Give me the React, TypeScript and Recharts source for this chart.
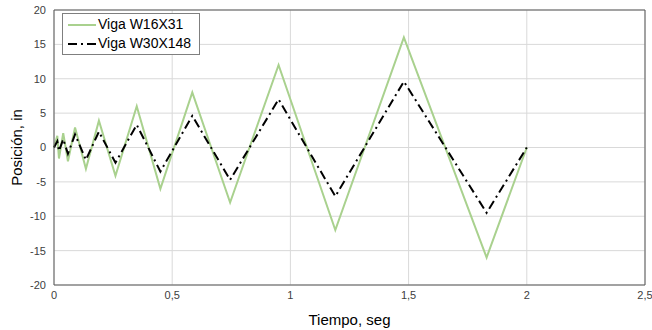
import React from 'react';
import {
  LineChart,
  Line,
  XAxis,
  YAxis,
  CartesianGrid,
  Legend,
  ReferenceLine,
} from 'recharts';

// tiempo (s) de cada vértice del protocolo
const tiempo = [
  0, 0.014, 0.021, 0.039, 0.059, 0.089, 0.135, 0.19, 0.26, 0.35, 0.45, 0.585,
  0.745, 0.95, 1.19, 1.48, 1.83, 2.0,
];
const vigaW16X31 = [
  0, 1.7, -1.6, 2.1, -2, 2.9, -3.1, 3.9, -4.1, 6, -6, 8, -8, 12, -12, 16, -16,
  0,
];
const vigaW30X148 = [
  0, 0.9, -0.5, 1.2, -0.9, 1.9, -1.8, 2.3, -2.2, 3.3, -3.5, 4.6, -4.7, 7.0,
  -7.1, 9.6, -9.5, 0,
];
const xTicks = [0, 0.5, 1, 1.5, 2, 2.5];
const yTicks = [-20, -15, -10, -5, 0, 5, 10, 15, 20];

const data = tiempo.map((t, i) => ({
  t,
  w16: vigaW16X31[i],
  w30: vigaW30X148[i],
}));

const FONT = '"Liberation Sans", Arial, sans-serif';
const GREEN = '#a9d18e';
const AXIS = '#595959';
const DASH = '9 4 2 4';

const LegendBox = () => (
  <div
    style={{
      border: '1px solid #7f7f7f',
      background: '#fff',
      padding: '1px 8px 1px 5px',
      fontFamily: FONT,
      fontSize: 14,
      color: '#000',
      lineHeight: '19px',
    }}
  >
    <div style={{ display: 'flex', alignItems: 'center' }}>
      <svg width={28} height={10}>
        <line x1={0} y1={5} x2={28} y2={5} stroke={GREEN} strokeWidth={2} />
      </svg>
      <span style={{ marginLeft: 2 }}>Viga W16X31</span>
    </div>
    <div style={{ display: 'flex', alignItems: 'center' }}>
      <svg width={28} height={10}>
        <line
          x1={0}
          y1={5}
          x2={28}
          y2={5}
          stroke='#000'
          strokeWidth={2}
          strokeDasharray={DASH}
        />
      </svg>
      <span style={{ marginLeft: 2 }}>Viga W30X148</span>
    </div>
  </div>
);

export default function App() {
  return (
    <div style={{ position: 'absolute', left: 0, top: 0, background: '#fff' }}>
      <LineChart
        width={652}
        height={330}
        data={data}
        margin={{ top: 10, right: 7, left: 0, bottom: 0 }}
      >
        <CartesianGrid stroke='#d9d9d9' strokeWidth={1} />
        <XAxis
          dataKey='t'
          type='number'
          domain={[0, 2.5]}
          ticks={xTicks}
          tickFormatter={(v: number) => String(v).replace('.', ',')}
          tick={{ fontSize: 11, fill: '#404040', fontFamily: FONT }}
          tickLine={false}
          tickSize={4}
          axisLine={{ stroke: AXIS }}
          height={45}
          label={{
            value: 'Tiempo, seg',
            position: 'insideBottom',
            offset: 5,
            style: { fontSize: 15, fill: '#000', fontFamily: FONT },
          }}
        />
        <YAxis
          type='number'
          domain={[-20, 20]}
          ticks={yTicks}
          tick={{ fontSize: 11, fill: '#404040', fontFamily: FONT }}
          tickLine={false}
          axisLine={{ stroke: AXIS }}
          width={54}
          label={{
            value: 'Posición, in',
            angle: -90,
            position: 'center',
            dx: -10,
            style: { fontSize: 15, fill: '#000', fontFamily: FONT },
          }}
        />
        <ReferenceLine y={20} stroke={AXIS} />
        <ReferenceLine x={2.5} stroke={AXIS} />
        <Legend
          layout='horizontal'
          align='center'
          verticalAlign='middle'
          wrapperStyle={{ left: 62, top: 13, width: 'auto', height: 'auto' }}
          content={() => <LegendBox />}
        />
        <Line
          type='linear'
          dataKey='w16'
          name='Viga W16X31'
          stroke={GREEN}
          strokeWidth={2}
          dot={false}
          isAnimationActive={false}
        />
        <Line
          type='linear'
          dataKey='w30'
          name='Viga W30X148'
          stroke='#000'
          strokeWidth={2}
          strokeDasharray={DASH}
          dot={false}
          isAnimationActive={false}
        />
      </LineChart>
    </div>
  );
}
